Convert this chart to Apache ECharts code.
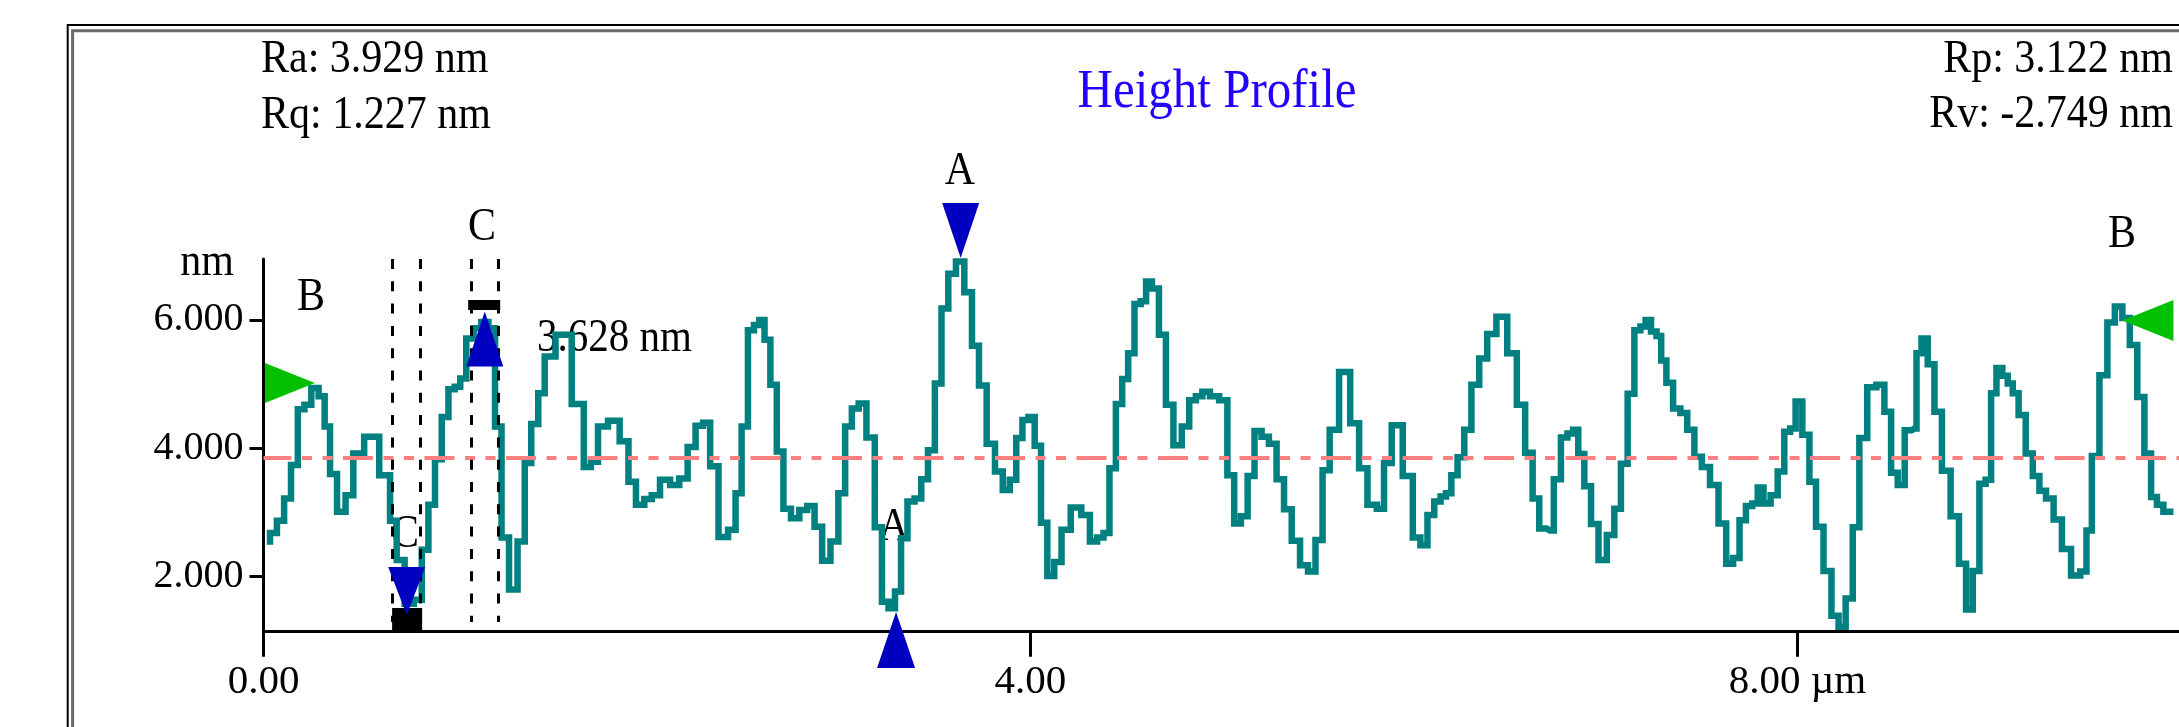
<!DOCTYPE html>
<html>
<head>
<meta charset="utf-8">
<title>Height Profile</title>
<script src="https://cdn.jsdelivr.net/npm/echarts@6.0.0/dist/echarts.min.js"></script>
<style>
  html, body { margin: 0; padding: 0; background: #fff; }
  #chart { width: 2179px; height: 727px; }
</style>
</head>
<body>
<div id="chart"></div>
<script>
// profile position (µm) and height (nm)
const positions = [
  0.017, 0.051, 0.089, 0.126, 0.161, 0.197, 0.230, 0.269, 0.306, 0.332, 0.362, 0.405, 0.451, 0.486, 0.564, 0.643,
  0.677, 0.712, 0.760, 0.808, 0.843, 0.877, 0.912, 0.947, 0.982, 1.012, 1.040, 1.075, 1.116, 1.156, 1.190, 1.225,
  1.258, 1.303, 1.347, 1.378, 1.415, 1.451, 1.482, 1.564, 1.651, 1.690, 1.725, 1.764, 1.829, 1.886, 1.921, 1.964,
  2.008, 2.042, 2.094, 2.147, 2.190, 2.234, 2.273, 2.312, 2.347, 2.399, 2.447,
  2.477, 2.510, 2.543, 2.573, 2.599, 2.627, 2.660, 2.694, 2.729, 2.773, 2.816, 2.855, 2.893, 2.934, 2.980, 3.016,
  3.051, 3.086, 3.122, 3.167, 3.209, 3.242, 3.277, 3.310, 3.340, 3.377, 3.414, 3.447, 3.484, 3.519, 3.553, 3.590,
  3.633, 3.677, 3.713, 3.750, 3.793, 3.837, 3.874, 3.910, 3.942, 3.974, 4.005, 4.039, 4.071, 4.105, 4.143, 4.181,
  4.239, 4.291, 4.329, 4.366, 4.396, 4.428, 4.463, 4.494, 4.525, 4.560, 4.590, 4.616, 4.651, 4.689, 4.724, 4.767,
  4.811, 4.845, 4.880, 4.913, 4.959,
  5.009, 5.045, 5.080, 5.115, 5.150, 5.187, 5.224, 5.263, 5.304, 5.341, 5.384, 5.428, 5.467, 5.506, 5.541, 5.580,
  5.639, 5.696, 5.732, 5.783, 5.830, 5.858, 5.910, 5.973, 6.015, 6.052, 6.089, 6.123, 6.154, 6.180, 6.210, 6.245,
  6.280, 6.319, 6.362, 6.402, 6.458, 6.515, 6.558, 6.602, 6.636, 6.671, 6.710, 6.749, 6.784, 6.817, 6.843, 6.871,
  6.906, 6.941, 6.984, 7.028, 7.062, 7.097, 7.132, 7.167, 7.195, 7.221, 7.252, 7.278, 7.301, 7.332, 7.371, 7.408,
  7.443, 7.482,
  7.521, 7.567, 7.610, 7.647, 7.682, 7.714, 7.749, 7.780, 7.806, 7.840, 7.880, 7.914, 7.949, 7.975, 8.006, 8.045,
  8.080, 8.114, 8.158, 8.197, 8.232, 8.271, 8.306, 8.340, 8.388, 8.436, 8.471, 8.506, 8.540, 8.579, 8.610, 8.632,
  8.662, 8.697, 8.732, 8.775, 8.823, 8.862, 8.897, 8.932, 8.966, 8.997, 9.023, 9.053, 9.084, 9.110, 9.136, 9.171,
  9.210, 9.245, 9.279, 9.314, 9.358, 9.401, 9.453, 9.497, 9.518, 9.553, 9.597, 9.636, 9.675, 9.714, 9.753, 9.792,
  9.827, 9.862, 9.888, 9.929, 9.961
]
const heights = [
  2.55, 2.68, 2.87, 3.22, 3.74, 4.61, 4.68, 4.94, 4.81, 4.34, 3.60, 3.01, 3.27, 3.92, 4.18, 3.58,
  2.87, 2.26, 1.58, 1.64, 2.42, 3.12, 3.83, 4.49, 4.92, 4.96, 5.09, 5.71, 5.87, 5.97, 5.87, 4.34,
  2.61, 1.80, 2.55, 3.77, 4.38, 4.86, 5.43, 5.77, 4.69, 3.71, 3.79, 4.34, 4.43, 4.11, 3.48, 3.12,
  3.21, 3.27, 3.51, 3.43, 3.53, 4.02, 4.35, 4.40, 3.72, 2.62, 2.73,
  3.30, 4.34, 5.84, 5.92, 6.00, 5.69, 4.99, 3.95, 3.06, 2.91, 3.04, 3.10, 2.78, 2.25, 2.55, 3.30,
  4.34, 4.62, 4.70, 4.17, 2.77, 1.61, 1.51, 1.77, 2.60, 3.17, 3.22, 3.52, 3.97, 5.01, 6.18, 6.72,
  6.91, 6.43, 5.60, 4.98, 4.07, 3.64, 3.35, 3.51, 4.16, 4.44, 4.49, 4.04, 2.84, 2.01, 2.23, 2.73,
  3.08, 2.96, 2.55, 2.61, 2.68, 3.69, 4.69, 5.08, 5.48, 6.25, 6.29, 6.60, 6.49, 5.77, 4.68, 4.05,
  4.34, 4.75, 4.81, 4.88, 4.81,
  4.75, 3.58, 2.83, 2.94, 3.57, 4.27, 4.18, 4.07, 3.52, 3.05, 2.56, 2.18, 2.08, 2.57, 3.66, 4.29,
  5.19, 4.39, 3.69, 3.12, 3.06, 3.77, 4.36, 3.57, 2.61, 2.49, 2.96, 3.17, 3.25, 3.30, 3.58, 3.86,
  4.29, 4.99, 5.40, 5.78, 6.05, 5.48, 4.68, 3.93, 3.22, 2.75, 2.72, 3.52, 4.17, 4.23, 4.29, 3.91,
  3.41, 2.82, 2.26, 2.65, 3.06, 3.76, 4.85, 5.84, 5.90, 6.00, 5.82, 5.75, 5.37, 5.02, 4.62, 4.55,
  4.29, 3.87,
  3.71, 3.43, 2.83, 2.20, 2.29, 2.88, 3.10, 3.14, 3.39, 3.14, 3.27, 3.64, 4.26, 4.31, 4.73, 4.21,
  3.48, 2.78, 2.09, 1.39, 1.22, 1.66, 2.77, 4.16, 4.95, 4.99, 4.57, 3.62, 3.43, 4.28, 4.31, 5.48,
  5.71, 5.31, 4.57, 3.65, 2.94, 2.20, 1.49, 2.09, 3.45, 3.51, 4.86, 5.25, 5.13, 5.01, 4.86, 4.52,
  3.92, 3.57, 3.34, 3.22, 2.89, 2.43, 2.02, 2.08, 2.72, 3.88, 5.14, 5.96, 6.21, 6.03, 5.61, 4.80,
  3.92, 3.24, 3.12, 3.01, 3.01
]
const meanHeight = 3.854
const yTicks = [2, 4, 6]
const xTicks = [0, 4, 8]
const xTickLabels = ['0.00', '4.00', '8.00 µm']
// cursor C dashed lines (µm)
const cursorC = [0.672, 0.816, 1.082, 1.222]

const yMin = 1.143
const yMax = 6.95
const pxPerNm = 64.17

const serif = '"Liberation Serif", "Times New Roman", serif'
const myChart = echarts.init(document.getElementById('chart'))

const txt = (text, x, y, align, size, color) => ({
  type: 'text',
  x: x,
  y: y,
  scaleY: 1.12,
  silent: true,
  style: {
    text: text,
    font: size + 'px ' + serif,
    fill: color || '#000',
    align: align,
    textAlign: align,
    verticalAlign: 'middle',
    textVerticalAlign: 'middle',
  },
})

const dashedCursor = (x) => [
  { coord: [x, yMax], symbolOffset: [0, 0] },
  { coord: [x, 1.294] },
]

// markers sitting outside the axis range are anchored on the range edge and shifted
const option = {
  animation: false,
  backgroundColor: '#fff',
  grid: { left: 263.5, right: 0, top: 259, bottom: 95.3 },
  xAxis: {
    type: 'value',
    min: 0,
    max: 9.99,
    axisLine: { lineStyle: { color: '#000', width: 3 } },
    axisTick: { show: true, length: 25, customValues: xTicks, lineStyle: { color: '#000', width: 3 } },
    axisLabel: {
      customValues: xTicks,
      formatter: (v) => xTickLabels[xTicks.indexOf(v)],
      color: '#000',
      fontFamily: serif,
      fontSize: 41,
      margin: 30,
    },
    splitLine: { show: false },
  },
  yAxis: {
    type: 'value',
    min: yMin,
    max: yMax,
    axisLine: { show: true, lineStyle: { color: '#000', width: 3 } },
    axisTick: { show: true, length: 14, customValues: yTicks, lineStyle: { color: '#000', width: 3 } },
    axisLabel: {
      customValues: yTicks,
      formatter: (v) => v.toFixed(3),
      color: '#000',
      fontFamily: serif,
      fontSize: 40,
      margin: 20,
    },
    splitLine: { show: false },
  },
  series: [
    {
      type: 'line',
      data: positions.map((x, i) => [x, heights[i]]),
      step: 'middle',
      symbol: 'none',
      clip: false,
      lineStyle: { color: '#008080', width: 6.5, join: 'miter' },
      markLine: {
        silent: true,
        symbol: ['none', 'none'],
        label: { show: false },
        lineStyle: { color: '#000', width: 3, type: [10, 12.3] },
        data: [
          {
            yAxis: meanHeight,
            lineStyle: { color: '#ff8080', width: 4, type: [30, 10.5, 10, 10.5, 10, 10.5], dashOffset: 2 },
          },
        ].concat(cursorC.map(dashedCursor)),
      },
      markPoint: {
        silent: true,
        symbol: 'triangle',
        label: { show: false },
        data: [
          // cursor A
          {
            coord: [3.636, 6.91],
            symbolOffset: [0, -(7.395 - 6.91) * pxPerNm],
            symbolSize: [37, 55],
            symbolRotate: 180,
            itemStyle: { color: '#0000c0' },
          },
          {
            coord: [3.299, 1.51],
            symbolOffset: [0, (1.51 - 1.014) * pxPerNm],
            symbolSize: [38, 56],
            itemStyle: { color: '#0000c0' },
          },
          // cursor C
          { coord: [1.151, 6.234], symbol: 'rect', symbolSize: [32, 10], itemStyle: { color: '#000' } },
          { coord: [1.154, 5.704], symbolSize: [37, 55], itemStyle: { color: '#0000c0' } },
          { coord: [0.749, 1.325], symbol: 'rect', symbolSize: [30, 24], itemStyle: { color: '#000' } },
          { coord: [0.747, 1.777], symbolSize: [37, 48], symbolRotate: 180, itemStyle: { color: '#0000c0' } },
          // cursor B
          { coord: [0.138, 5.019], symbolSize: [40, 50], symbolRotate: -90, itemStyle: { color: '#00c000' } },
          { coord: [9.828, 5.993], symbolSize: [41, 51], symbolRotate: 90, itemStyle: { color: '#00c000' } },
        ],
      },
    },
  ],
  graphic: [
    {
      type: 'rect',
      silent: true,
      shape: { x: 67.7, y: 25, width: 2400, height: 1000 },
      style: { fill: 'none', stroke: '#000', lineWidth: 2 },
    },
    {
      type: 'rect',
      silent: true,
      shape: { x: 72.6, y: 30.8, width: 2400, height: 1000 },
      style: { fill: 'none', stroke: '#6b6b6b', lineWidth: 3 },
    },
    txt('Ra: 3.929 nm', 261, 60, 'left', 42),
    txt('Rq: 1.227 nm', 261, 115.5, 'left', 42),
    txt('Rp: 3.122 nm', 2173, 60, 'right', 42),
    txt('Rv: -2.749 nm', 2173, 115, 'right', 42),
    txt('Height Profile', 1217, 93, 'center', 49, '#2200ff'),
    txt('nm', 207, 263, 'center', 42),
    txt('A', 960, 172, 'center', 42),
    txt('A', 894, 528, 'center', 42),
    txt('C', 482, 228, 'center', 42),
    txt('C', 405, 535, 'center', 42),
    txt('B', 311, 298, 'center', 42),
    txt('B', 2122, 235, 'center', 42),
    txt('3.628 nm', 537, 338.5, 'left', 41),
  ],
}

myChart.setOption(option)
</script>
</body>
</html>
